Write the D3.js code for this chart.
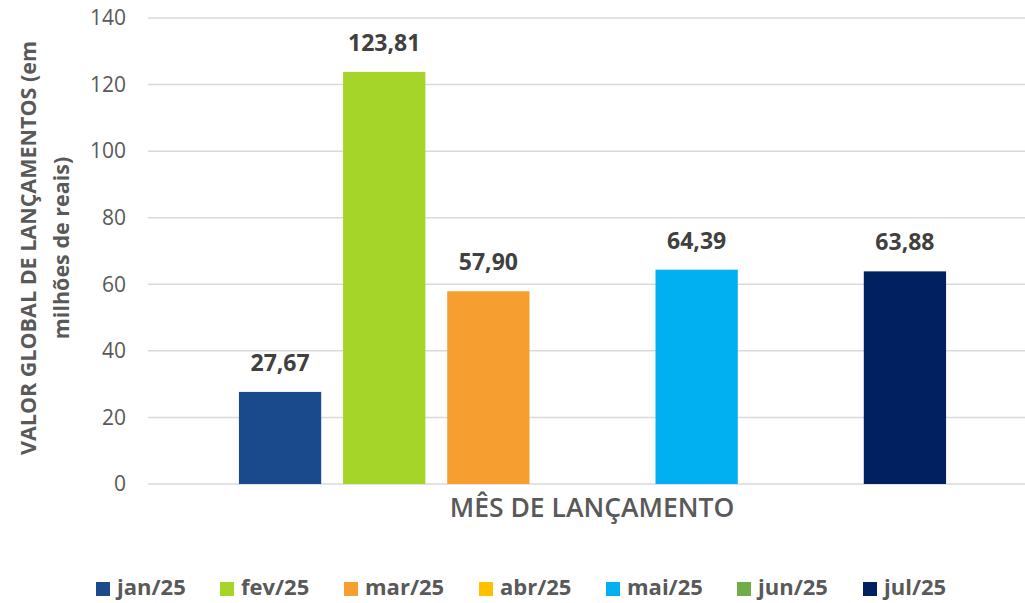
<!DOCTYPE html>
<html>
<head>
<meta charset="utf-8">
<script src="https://cdn.jsdelivr.net/npm/d3@7"></script>
<style>
  body { margin: 0; background: #fff; }
  svg { font-family: "Open Sans", "Noto Sans", sans-serif; }
  .grid line { stroke: #d9d9d9; stroke-width: 1.5; }
</style>
</head>
<body>
<svg id="chart" width="1025" height="603"></svg>
<script>
// months (series) and their values, abr and jun have no bar
const months = ["jan/25", "fev/25", "mar/25", "abr/25", "mai/25", "jun/25", "jul/25"];
const values = [27.67, 123.81, 57.90, null, 64.39, null, 63.88];
const colors = ["#1a4a8c", "#a6d52a", "#f69e30", "#ffc000", "#00b0f0", "#70ad47", "#002060"];
const yTicks = [0, 20, 40, 60, 80, 100, 120, 140];

const svg = d3.select("#chart");
const plotLeft = 148, plotRight = 1025;

const y = d3.scaleLinear().domain([0, 140]).range([484, 18]);
const x = d3.scaleBand().domain(months).range([228, 957])
    .paddingInner(0.21).paddingOuter(0.105);

// gridlines
svg.append("g").attr("class", "grid")
    .selectAll("line").data(yTicks).join("line")
    .attr("x1", plotLeft).attr("x2", plotRight)
    .attr("y1", d => y(d)).attr("y2", d => y(d));

// y tick labels
svg.append("g").selectAll("text").data(yTicks).join("text")
    .attr("x", 126).attr("y", d => y(d)).attr("dy", "0.35em")
    .attr("text-anchor", "end")
    .attr("fill", "#595959").attr("font-size", 21)
    .text(d => d);

// y axis title (two lines)
const yt = svg.append("text")
    .attr("transform", "translate(28,248) rotate(-90)")
    .attr("text-anchor", "middle")
    .attr("fill", "#595959").attr("font-size", 21.5).attr("font-weight", "bold");
yt.append("tspan").attr("x", 0).attr("dy", "0.35em").text("VALOR GLOBAL DE LANÇAMENTOS (em");
yt.append("tspan").attr("x", 0).attr("dy", "1.55em").text("milhões de reais)");

// bars
const data = months.map((m, i) => ({ month: m, value: values[i], color: colors[i] }))
    .filter(d => d.value != null);

svg.append("g").selectAll("rect").data(data).join("rect")
    .attr("x", d => x(d.month))
    .attr("width", x.bandwidth())
    .attr("y", d => y(d.value))
    .attr("height", d => y(0) - y(d.value))
    .attr("fill", d => d.color);

// data labels
svg.append("g").selectAll("text").data(data).join("text")
    .attr("x", d => x(d.month) + x.bandwidth() / 2)
    .attr("y", d => y(d.value) - 21)
    .attr("text-anchor", "middle")
    .attr("fill", "#404040").attr("font-size", 23).attr("font-weight", "bold")
    .text(d => d.value.toFixed(2).replace(".", ","));

// x axis title
svg.append("text")
    .attr("x", 592).attr("y", 517)
    .attr("text-anchor", "middle")
    .attr("fill", "#595959").attr("font-size", 26.5).attr("font-weight", 600)
    .text("MÊS DE LANÇAMENTO");

// legend
const legendX = [96, 220, 344, 479, 606, 737, 863];
const lg = svg.append("g").selectAll("g").data(months).join("g")
    .attr("transform", (d, i) => `translate(${legendX[i]},589)`);
lg.append("rect").attr("x", 0).attr("y", -7).attr("width", 14).attr("height", 14)
    .attr("fill", (d, i) => colors[i]);
lg.append("text").attr("x", 21).attr("y", 6)
    .attr("fill", "#595959").attr("font-size", 22).attr("font-weight", "bold")
    .text(d => d);
</script>
</body>
</html>
